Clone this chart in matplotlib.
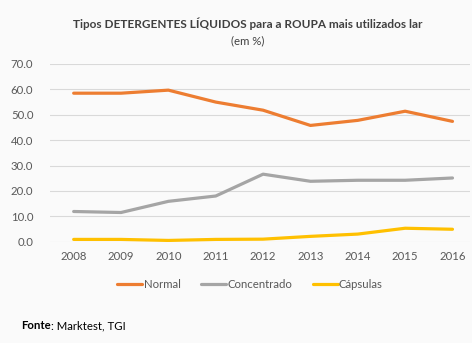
import matplotlib
matplotlib.use("Agg")
import matplotlib.pyplot as plt

years = ["2008", "2009", "2010", "2011", "2012", "2013", "2014", "2015", "2016"]
normal = [58.5, 58.5, 59.7, 55.0, 51.8, 45.8, 47.8, 51.4, 47.4]
concentrado = [11.9, 11.5, 15.9, 18.0, 26.6, 23.8, 24.2, 24.2, 25.1]
capsulas = [0.9, 0.9, 0.5, 0.9, 1.0, 2.1, 3.0, 5.3, 4.9]
series_names = ["Normal", "Concentrado", "Cápsulas"]
colors = ["#ED7D31", "#A5A5A5", "#FFC000"]
yticks = [0, 10, 20, 30, 40, 50, 60, 70]

plt.rcParams['font.family'] = ['Lato', 'DejaVu Sans']
fig = plt.figure(figsize=(4.72, 3.43), dpi=100, facecolor="#FAFAFA")
ax = fig.add_axes([50/472, 101.3/343, 420/472, 177.7/343])
ax.set_facecolor("#FAFAFA")
x = list(range(len(years)))
for vals, name, c in zip([normal, concentrado, capsulas], series_names, colors):
    ax.plot(x, vals, color=c, lw=2.3, label=name, solid_capstyle="round")
ax.set_ylim(0, 70)
ax.set_xlim(-0.5, 8.37)
ax.set_yticks(yticks)
ax.set_yticklabels([f"{v:.1f}" for v in yticks])
ax.set_xticks(x)
ax.set_xticklabels(years)
ax.grid(axis="y", color="#D9D9D9", lw=0.8)
ax.set_axisbelow(True)
for s in ax.spines.values():
    s.set_visible(False)
ax.tick_params(length=0, colors="#595959", labelsize=8.2)
ax.tick_params(axis="y", pad=12)
ax.tick_params(axis="x", pad=7)
leg = ax.legend(loc="center", bbox_to_anchor=(250/472, 1 - 284/343), bbox_transform=fig.transFigure,
                ncol=3, frameon=False, fontsize=8.2, handlelength=2.2, handletextpad=0.1, columnspacing=1.8)
for t in leg.get_texts():
    t.set_color("#595959")
fig.text(248/472, 1 - 24/343, "Tipos DETERGENTES LÍQUIDOS para a ROUPA mais utilizados lar",
         ha="center", va="center", fontsize=8.5, fontweight="bold", color="#404040")
fig.text(248/472, 1 - 41/343, "(em %)", ha="center", va="center", fontsize=8.2, color="#404040")
t1 = fig.text(21/472, 1 - 329/343, "Fonte", ha="left", va="baseline", fontsize=8.2, fontweight="bold", color="#000000")
fig.canvas.draw()
bb = t1.get_window_extent()
fig.text(bb.x1 / fig.bbox.width, 1 - 329/343, ": Marktest, TGI", ha="left", va="baseline", fontsize=8.2, color="#000000")
fig.savefig("out.png", dpi=100, facecolor=fig.get_facecolor())
